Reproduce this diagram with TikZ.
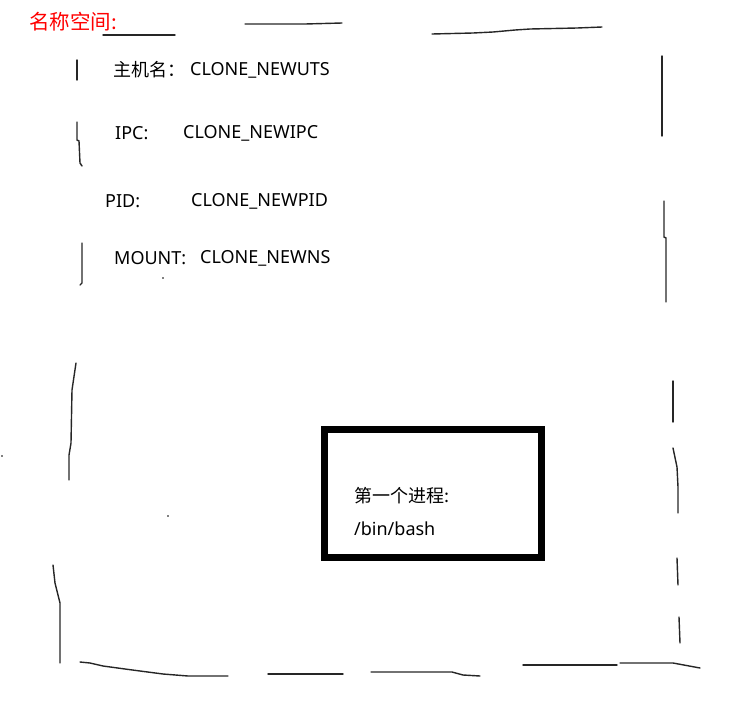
\documentclass[tikz,border=0pt]{standalone}
\usepackage{fontspec}
\setmainfont{Noto Sans}
\newfontfamily\cjk{Noto Sans CJK SC}
\begin{document}
\begin{tikzpicture}[x=1pt,y=-1pt,
  sk/.style={line width=1.4pt, black!85, line cap=round},
  lbl/.style={anchor=west, inner sep=0pt, font=\fontsize{18}{21}\selectfont},
  dotmark/.style={fill=black, draw=none}]
\useasboundingbox (0,0) rectangle (729,702);
% title
\node[anchor=west, inner sep=0pt, text=red, font=\cjk\fontsize{20.5}{24}\selectfont] (title) at (29,22) {名称空间:};
% labels
\node[lbl] (l1) at (113,70) {\cjk 主机名：};
\node[lbl] (v1) at (190,70) {CLONE\_NEWUTS};
\node[lbl] (l2) at (115,133) {IPC:};
\node[lbl] (v2) at (183,133) {CLONE\_NEWIPC};
\node[lbl] (l3) at (105,201) {PID:};
\node[lbl] (v3) at (191,201) {CLONE\_NEWPID};
\node[lbl] (l4) at (114,258) {MOUNT:};
\node[lbl] (v4) at (200,258) {CLONE\_NEWNS};
% process box
\node[draw, line width=7pt, outer sep=0pt, minimum width=217pt, minimum height=128pt, inner sep=0pt, anchor=north west] (proc) at (324.5,429.5) {};
\node[lbl] (p1) at (354,496) {\cjk 第一个进程:};
\node[lbl] (p2) at (354,529) {/bin/bash};
% sketchy boundary: top
\draw[sk] (103,35) -- (175,35);
\draw[sk] (245,24) -- (305,24) -- (342,23);
\draw[sk] (432,34) -- (473,33) -- (493,32) -- (515,30) -- (530,29) -- (577,28) -- (602,27);
% right
\draw[sk] (662,56) -- (662,136);
\draw[sk] (664,201) -- (664,237) -- (666,238) -- (666,302);
\draw[sk] (673,381) -- (673,422);
\draw[sk] (673,448) -- (677,467) -- (678,487) -- (678,513);
\draw[sk] (677,558) -- (678,585);
\draw[sk] (679,617) -- (680,643);
% bottom
\draw[sk] (523,665) -- (617,665);
\draw[sk] (620,663) -- (673,663) -- (700,668);
\draw[sk] (268,674) -- (343,674);
\draw[sk] (371,672) -- (452,672) -- (463,675) -- (480,676);
\draw[sk] (80,662) -- (90,663) -- (103,666) -- (125,669) -- (140,671) -- (163,674) -- (188,676) -- (228,676);
% left
\draw[sk] (53,565) -- (55,583) -- (60,603) -- (60,663);
\draw[sk] (76,363) -- (72,390) -- (71,443) -- (69,455) -- (69,480);
\draw[sk] (77,60) -- (77,80);
\draw[sk] (77,122) -- (77,140) -- (79,141) -- (80,163) -- (82,166);
\draw[sk] (82,243) -- (82,283) -- (80,285);
% stray dots
\fill[dotmark] (2,456) circle (0.9);
\fill[dotmark] (168,516) circle (0.9);
\fill[dotmark] (163,278) circle (0.9);
\end{tikzpicture}
\end{document}
